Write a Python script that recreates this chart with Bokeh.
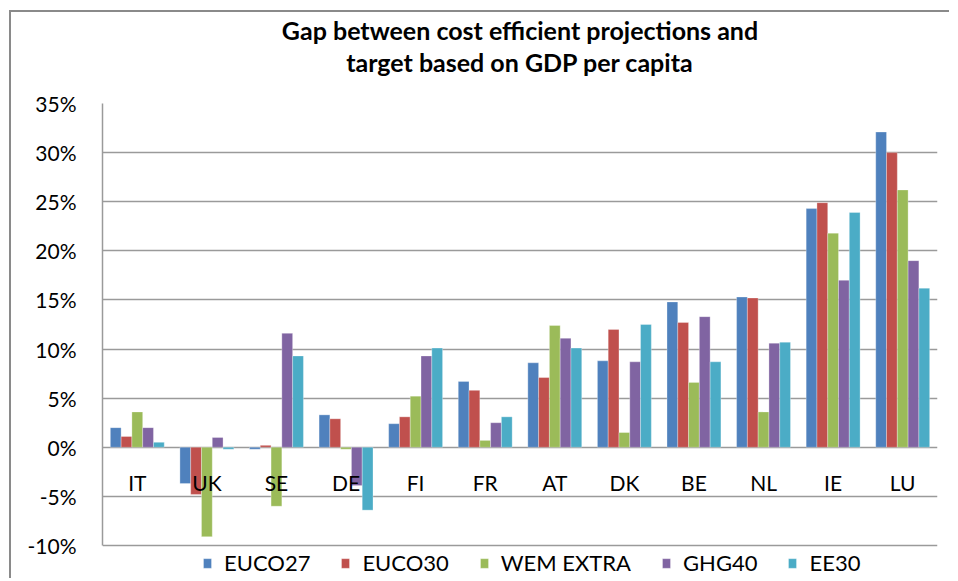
from bokeh.plotting import figure
from bokeh.models import (FactorRange, Range1d, PrintfTickFormatter, Legend,
                          LegendItem, ColumnDataSource, FixedTicker, Title)
from bokeh.transform import dodge
from bokeh.core.properties import value
from bokeh.embed import file_html
from bokeh.resources import INLINE

countries = ["IT", "UK", "SE", "DE", "FI", "FR", "AT", "DK", "BE", "NL", "IE", "LU"]
euco27 = [2.0, -3.7, -0.2, 3.3, 2.4, 6.7, 8.6, 8.8, 14.8, 15.3, 24.3, 32.1]
euco30 = [1.1, -4.8, 0.2, 2.9, 3.1, 5.8, 7.1, 12.0, 12.7, 15.2, 24.9, 30.0]
wem_extra = [3.6, -9.1, -6.0, -0.2, 5.2, 0.7, 12.4, 1.5, 6.6, 3.6, 21.8, 26.2]
ghg40 = [2.0, 1.0, 11.6, -3.9, 9.3, 2.5, 11.1, 8.7, 13.3, 10.6, 17.0, 19.0]
ee30 = [0.5, -0.2, 9.3, -6.4, 10.1, 3.1, 10.1, 12.5, 8.7, 10.7, 23.9, 16.2]
series_names = ["EUCO27", "EUCO30", "WEM EXTRA", "GHG40", "EE30"]
y_ticks = [-10, -5, 0, 5, 10, 15, 20, 25, 30, 35]
title_lines = ["Gap between cost efficient projections and",
               "target based on GDP per capita"]

colors = ["#4F81BD", "#C0504D", "#9BBB59", "#8064A2", "#4BACC6"]
FONT = "Lato"

# layout geometry (pixels)
W, H = 940, 568
B_LEFT, B_TOP, B_RIGHT = 91, 91, 14
AXIS_PX = 442            # pixel height of the -10%..35% axis span
frame_h = H - B_TOP      # frame reaches the bottom so the legend can sit inside it
y_lo, y_hi = y_ticks[0], y_ticks[-1]
y_start = y_hi - (y_hi - y_lo) * frame_h / AXIS_PX

src = ColumnDataSource(dict(country=countries, EUCO27=euco27, EUCO30=euco30,
                            WEM=wem_extra, GHG40=ghg40, EE30=ee30))
cols = ["EUCO27", "EUCO30", "WEM", "GHG40", "EE30"]

p = figure(x_range=FactorRange(*countries, range_padding=0),
           y_range=Range1d(y_start, y_hi),
           width=W, height=H,
           min_border_left=B_LEFT, min_border_top=B_TOP,
           min_border_right=B_RIGHT, min_border_bottom=0,
           x_axis_location=None,
           output_backend="svg", toolbar_location=None)
p.styles = {"border-top": "2px solid #8a8a8a", "border-left": "2px solid #8a8a8a",
            "margin-top": "10px", "margin-left": "9px"}

# title: p.title is the outer line; added Titles stack outward from the plot
p.title.text = title_lines[0]
p.title.align = "center"
p.title.text_font = FONT
p.title.text_font_size = "25px"
p.title.text_font_style = "bold"
p.title.text_color = "#000000"
p.title.standoff = 0
# spacer between plot and second title line
p.add_layout(Title(text=" ", text_font_size="1px", standoff=24), "above")
p.add_layout(Title(text=title_lines[1], align="center", text_font=FONT,
                   text_font_size="25px", text_font_style="bold",
                   text_color="#000000", standoff=0), "above")

bw = 0.155
offsets = [-2 * bw, -bw, 0, bw, 2 * bw]
items = []
for col, name, c, off in zip(cols, series_names, colors, offsets):
    r = p.vbar(x=dodge("country", off, range=p.x_range), top=col, bottom=0,
               width=bw, source=src, fill_color=c, line_color="white",
               line_width=0.6, line_alpha=0.5)
    items.append(LegendItem(label=name, renderers=[r]))

# category labels drawn inside the plot, below the zero line
p.text(x=countries, y=[-3.55] * len(countries), text=countries,
       text_align="center", text_baseline="middle",
       text_font=value(FONT), text_font_size="21px", text_color="#000000")

p.yaxis.ticker = FixedTicker(ticks=y_ticks)
p.yaxis.bounds = (y_lo, y_hi)
p.yaxis.formatter = PrintfTickFormatter(format="%d%%")
p.yaxis.major_label_text_font = FONT
p.yaxis.major_label_text_font_size = "21px"
p.yaxis.major_label_text_color = "#000000"
p.yaxis.major_tick_line_color = None
p.yaxis.major_tick_out = 0
p.yaxis.major_tick_in = 0
p.yaxis.minor_tick_line_color = None
p.yaxis.axis_line_color = "#9a9a9a"
p.yaxis.axis_line_width = 1.5
p.yaxis.major_label_standoff = 26

p.xgrid.grid_line_color = None
p.ygrid.grid_line_color = "#9a9a9a"
p.ygrid.grid_line_width = 1.5
p.ygrid.ticker = FixedTicker(ticks=y_ticks)
p.outline_line_color = None

legend = Legend(items=items, orientation="horizontal", location=(100, 4),
                label_text_font=FONT, label_text_font_size="22px",
                label_text_color="#000000",
                glyph_width=10, glyph_height=12, label_standoff=12,
                spacing=30, padding=0, margin=0, border_line_color=None,
                background_fill_alpha=0)
p.add_layout(legend, "center")

open("out.html", "w").write(file_html(p, INLINE))
